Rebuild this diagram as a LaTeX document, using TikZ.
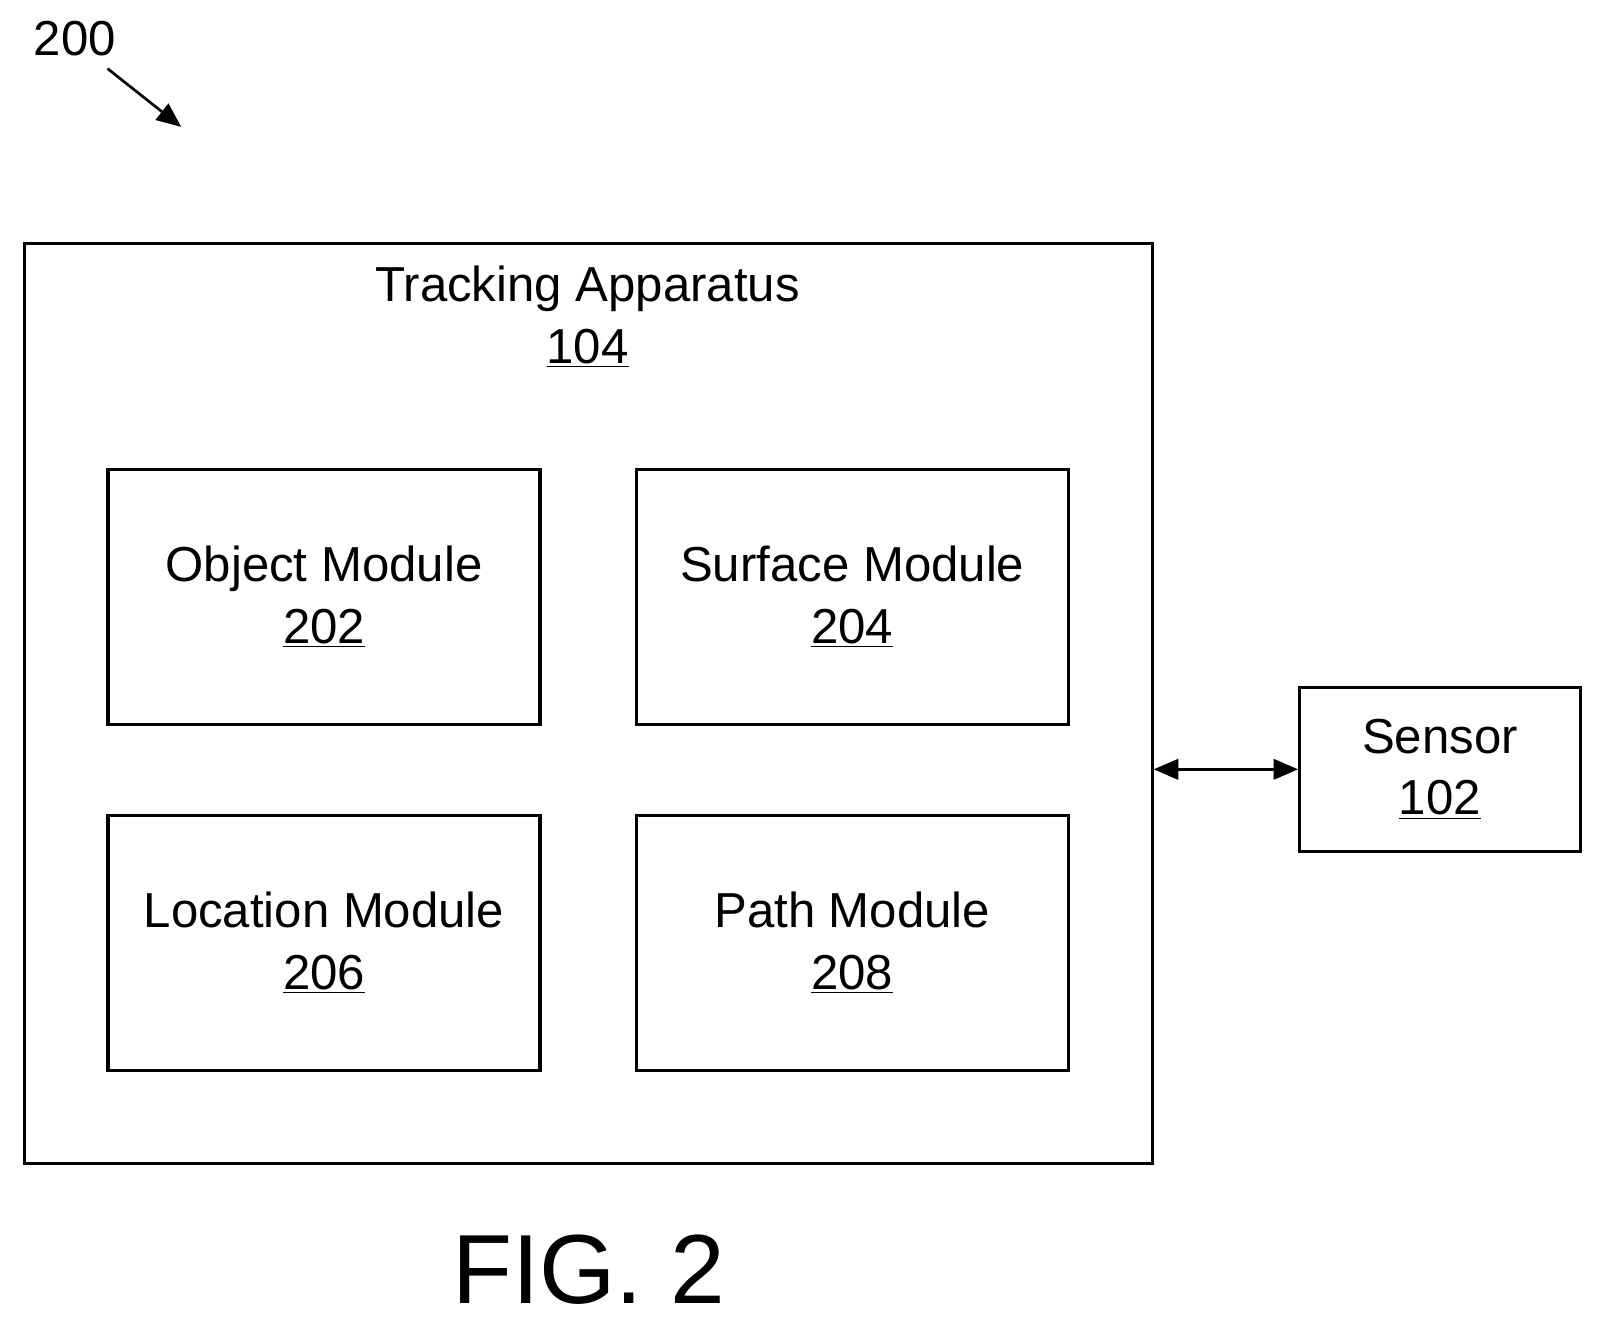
\documentclass[tikz,border=0pt]{standalone}
\usepackage{fontspec}
\setmainfont{Liberation Sans}
\usetikzlibrary{arrows.meta}
\begin{document}
\begin{tikzpicture}[x=0.5pt,y=-0.5pt,
  box/.style={draw,line width=1.5pt,inner sep=0pt},
  lbl/.style={font=\fontsize{24}{30}\selectfont,align=center},
  arr/.style={line width=1.3pt,-{Triangle[length=12pt,width=10pt]}}]
\useasboundingbox (0,0) rectangle (1560,1293);
\node[box,minimum width=551pt,minimum height=449.5pt] (ta) at (574.5,687) {};
\node[lbl,anchor=north] (tat) at (574,253) {Tracking Apparatus\\\underline{104}};
\foreach \n/\x/\y/\t/\num in {om/316.5/583/Object Module/202, sm/832.5/583/Surface Module/204, lm/316.5/921/Location Module/206, pm/832.5/921/Path Module/208}{
  \node[box,minimum width=211pt,minimum height=124.5pt,lbl] (\n) at (\x,\y) {\t\\\underline{\num}};
}
\node[box,minimum width=137pt,minimum height=80pt,lbl] (s) at (1406.5,751.5) {Sensor\\\underline{102}};
\draw[arr,{Triangle[length=12pt,width=10pt]}-{Triangle[length=12pt,width=10pt]}] (ta.east|-s.west) -- (s.west);
\node[lbl,anchor=center] (n200) at (73,38) {200};
\coordinate (a1) at (105,67);
\coordinate (a2) at (177,124);
\draw[arr] (a1) -- (a2);
\node[font=\fontsize{48}{56}\selectfont] (fig) at (575,1240) {FIG. 2};
\end{tikzpicture}
\end{document}
